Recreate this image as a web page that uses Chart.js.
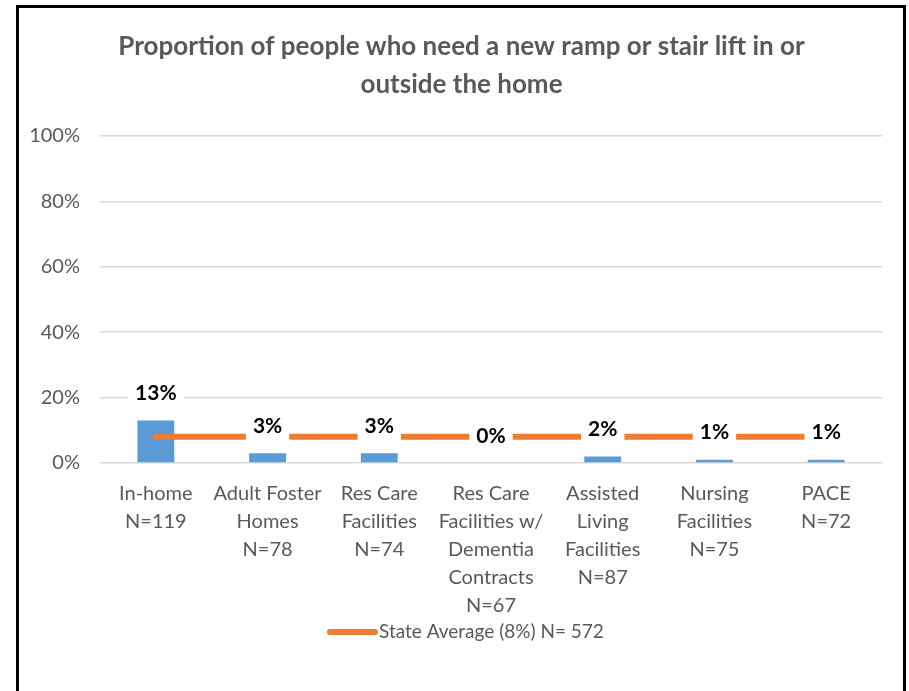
<!DOCTYPE html>
<html>
<head>
<meta charset="utf-8">
<script src="https://cdn.jsdelivr.net/npm/chart.js@4/dist/chart.umd.min.js"></script>
<style>
  html, body { margin: 0; padding: 0; background: #fff; }
  #wrap { position: relative; width: 909px; height: 691px; overflow: hidden; }
  #c { position: absolute; left: 0; top: 0; }
  #frame {
    position: absolute; left: 16px; top: 5px; width: 884px; height: 720px;
    border: 3px solid #000; pointer-events: none;
  }
</style>
</head>
<body>
<div id="wrap">
  <canvas id="c" width="909" height="691"></canvas>
  <div id="frame"></div>
</div>
<script>
// Setting groups (x-axis labels, one line per entry)
const categories = [
  ['In-home', 'N=119'],
  ['Adult Foster', 'Homes', 'N=78'],
  ['Res Care', 'Facilities', 'N=74'],
  ['Res Care', 'Facilities w/', 'Dementia', 'Contracts', 'N=67'],
  ['Assisted', 'Living', 'Facilities', 'N=87'],
  ['Nursing', 'Facilities', 'N=75'],
  ['PACE', 'N=72']
];

// Percent who need a new ramp or stair lift
const rampPercent = [13, 3, 3, 0, 2, 1, 1];

// Statewide average, drawn as a reference line across all groups
const stateAverage = 8;
const stateAverageLabel = 'State Average (8%) N= 572';

// Y-axis ticks
const yTicks = [0, 20, 40, 60, 80, 100];

const FONT = "Lato, 'Liberation Sans', Arial, sans-serif";
const GREY_TEXT = '#595959';
const ORANGE = '#ED7D31';
const BLUE = '#5B9BD5';

// Bold value labels above each bar, on a white box that breaks the average line
const valueLabels = {
  id: 'valueLabels',
  afterDatasetsDraw(chart) {
    const meta = chart.getDatasetMeta(0);
    const ctx = chart.ctx;
    ctx.save();
    ctx.font = "bold 21px " + FONT;
    ctx.textAlign = 'center';
    ctx.textBaseline = 'middle';
    meta.data.forEach((bar, i) => {
      const text = rampPercent[i] + '%';
      const w = ctx.measureText(text).width + 14;
      const h = 28;
      const cy = bar.y - 27;
      ctx.fillStyle = '#ffffff';
      ctx.fillRect(bar.x - w / 2, cy - h / 2, w, h);
      ctx.fillStyle = '#000000';
      ctx.fillText(text, bar.x, cy);
    });
    ctx.restore();
  }
};

// Centre the title a little to the right, over the plot rather than the whole frame
const titleOffset = {
  id: 'titleOffset',
  afterLayout(chart) {
    const t = chart.titleBlock;
    if (t) {
      t.left += 24;
      t.width -= 24;
    }
  }
};

// Single legend entry: a short thick orange stroke followed by its label
const averageLegend = {
  id: 'averageLegend',
  afterDraw(chart) {
    const ctx = chart.ctx;
    const y = 632;
    const x0 = 330;
    const len = 45;
    ctx.save();
    ctx.strokeStyle = ORANGE;
    ctx.lineWidth = 6;
    ctx.lineCap = 'round';
    ctx.beginPath();
    ctx.moveTo(x0, y);
    ctx.lineTo(x0 + len, y);
    ctx.stroke();
    ctx.fillStyle = GREY_TEXT;
    ctx.font = "19px " + FONT;
    ctx.textAlign = 'left';
    ctx.textBaseline = 'middle';
    ctx.fillText(stateAverageLabel, x0 + len + 4, y);
    ctx.restore();
  }
};

new Chart(document.getElementById('c'), {
  data: {
    labels: categories,
    datasets: [
      {
        type: 'bar',
        label: 'Need ramp or stair lift',
        data: rampPercent,
        backgroundColor: BLUE,
        barPercentage: 0.33,
        categoryPercentage: 1.0,
        order: 2
      },
      {
        type: 'line',
        label: stateAverageLabel,
        data: categories.map(() => stateAverage),
        borderColor: ORANGE,
        backgroundColor: ORANGE,
        borderWidth: 6,
        borderCapStyle: 'round',
        pointRadius: 0,
        pointHoverRadius: 0,
        fill: false,
        order: 1
      }
    ]
  },
  options: {
    responsive: false,
    animation: false,
    layout: { padding: { top: 0, left: 17, right: 27, bottom: 54 } },
    plugins: {
      title: {
        display: true,
        text: ['Proportion of people who need a new ramp or stair lift in or', 'outside the home'],
        color: GREY_TEXT,
        font: { family: FONT, size: 26, weight: 'bold', lineHeight: 38 / 26 },
        padding: { top: 28, bottom: 32 }
      },
      legend: { display: false },
      tooltip: { enabled: false }
    },
    scales: {
      x: {
        grid: { display: false, drawTicks: false },
        border: { display: false },
        ticks: {
          color: GREY_TEXT,
          font: { family: FONT, size: 20, lineHeight: 28 / 20 },
          padding: 17,
          maxRotation: 0,
          autoSkip: false
        }
      },
      y: {
        min: 0,
        max: 100,
        afterBuildTicks: (axis) => { axis.ticks = yTicks.map(v => ({ value: v })); },
        grid: { color: '#D9D9D9', lineWidth: 1.5, drawTicks: false },
        border: { display: false },
        ticks: {
          color: GREY_TEXT,
          font: { family: FONT, size: 20 },
          padding: 20,
          callback: (v) => v + '%'
        },
        afterFit: (axis) => { axis.width = 83; }
      }
    }
  },
  plugins: [valueLabels, titleOffset, averageLegend]
});
</script>
</body>
</html>
